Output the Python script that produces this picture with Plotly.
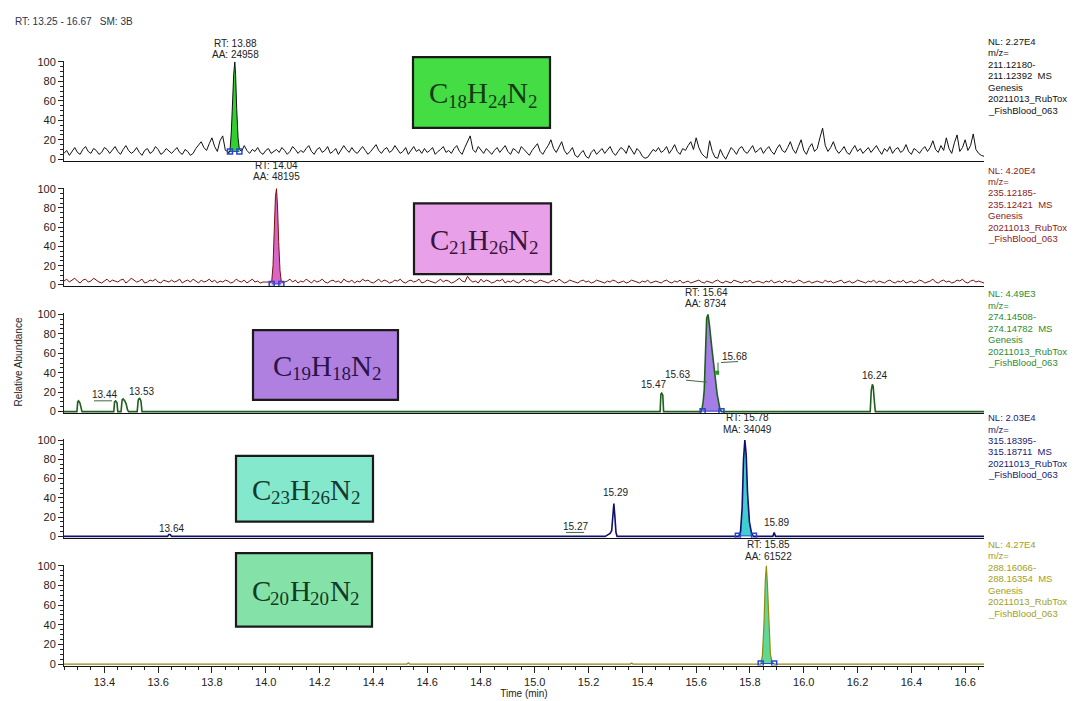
import re
import numpy as np
import plotly.graph_objects as go

# ---------------- data ----------------
X_MIN, X_MAX = 13.25, 16.67
GRID_START, GRID_STEP = 13.25, 0.01

# Panel 1: C18H24N2 (m/z 211.12180-211.12392), noisy baseline, 0.01 min scans
noise1 = [6,9,4,8,12,7,5,10,13,8,6,11,9,5,7,12,10,6,9,13,
          8,5,10,14,9,6,8,12,7,4,9,11,6,8,13,10,5,7,11,8,
          6,9,12,7,5,10,8,4,6,11,14,18,12,9,16,22,13,8,19,24,
          9,8,8,8,8,8,8,14,9,6,10,8,12,7,5,9,11,6,8,10,
          7,12,9,5,8,13,10,6,9,7,11,14,8,5,10,12,7,9,13,6,
          8,11,5,9,14,10,7,12,8,6,10,13,9,5,8,11,15,9,6,10,
          12,7,9,14,10,6,8,12,5,9,13,8,10,6,11,7,9,12,5,8,
          10,13,7,9,6,11,14,8,5,12,18,24,10,7,13,9,6,11,8,5,
          9,12,7,10,14,8,5,11,9,6,13,10,7,4,9,12,16,8,5,10,
          14,20,11,7,13,18,9,5,8,12,4,2,6,9,3,1,7,10,5,8,
          11,6,9,13,7,4,8,12,10,6,14,9,5,11,8,3,1,2,6,10,
          8,12,7,9,13,6,10,15,8,5,11,9,14,18,10,22,12,6,3,1,
          19,8,2,1,10,4,0,7,12,9,5,11,13,8,6,10,14,7,9,12,
          6,10,13,8,5,11,15,9,7,12,18,10,6,13,20,9,5,12,16,8,
          11,22,32,14,8,12,18,10,6,9,13,7,5,10,14,8,11,6,9,12,
          7,10,14,9,5,11,8,13,6,10,12,7,9,15,8,5,11,9,6,10,
          13,8,12,19,10,7,14,9,22,11,6,17,25,8,12,20,9,14,26,10,
          6,4,3]
pk1_t = [13.862, 13.867, 13.872, 13.877, 13.881, 13.885, 13.888, 13.892, 13.897, 13.902, 13.907]
pk1_i = [6, 9, 28, 66, 88, 100, 86, 52, 22, 10, 8]
int1_t = [13.867, 13.902]
int1_i = [8, 8]

# Panel 2: C21H26N2 (m/z 235.12185-235.12421)
noise2 = [4,6,3,5,7,4,2,5,6,3,4,7,5,3,2,4,6,3,5,4,
          3,5,6,2,4,7,5,3,4,6,2,3,5,4,6,3,2,5,4,3,
          5,3,4,6,2,4,5,3,6,4,2,5,3,4,6,3,5,2,4,3,
          5,4,2,3,6,4,3,5,2,4,6,3,4,2,3,3,3,3,3,3,
          3,3,3,4,6,3,5,2,4,3,6,4,2,5,3,4,6,3,2,4,
          5,3,4,2,6,4,3,5,2,4,3,6,4,5,3,2,4,6,3,5,
          4,2,3,5,4,6,3,2,4,5,3,4,6,2,3,5,4,3,2,4,
          6,3,5,4,2,3,5,7,4,3,9,5,3,4,2,6,3,5,4,2,
          3,5,4,6,2,4,3,5,3,2,4,6,3,5,4,2,3,5,4,3,
          2,4,5,3,6,4,2,3,5,4,3,2,4,5,3,4,2,3,5,4,
          3,2,4,3,5,4,2,3,4,2,3,5,4,3,2,4,3,5,2,3,
          4,3,2,4,5,3,2,4,3,5,2,3,4,2,3,4,5,3,2,4,
          3,2,4,5,3,2,4,3,2,5,4,3,2,4,3,5,2,3,4,3,
          2,4,3,5,2,3,4,2,5,3,4,2,3,5,4,2,3,4,2,3,
          4,3,2,5,3,4,2,3,4,5,2,3,4,2,3,5,4,3,2,4,
          3,5,2,4,3,2,4,5,3,2,4,3,5,2,3,4,2,3,5,4,
          2,3,4,6,3,2,4,5,3,4,2,3,5,4,6,3,2,4,5,3,
          4,3,2]
pk2_t = [14.016, 14.022, 14.027, 14.032, 14.036, 14.040, 14.044, 14.048, 14.053, 14.058, 14.064]
pk2_i = [2, 3, 20, 62, 92, 100, 80, 45, 15, 3, 2]
int2_t = [14.022, 14.058]
int2_i = [1, 1]

# Panel 3: C19H18N2 (m/z 274.14508-274.14782)
t3 = [13.25, 13.298, 13.301, 13.304, 13.309, 13.314, 13.317,
      13.435, 13.438, 13.442, 13.447, 13.450,
      13.462, 13.466, 13.470, 13.476, 13.481, 13.486, 13.490,
      13.522, 13.526, 13.531, 13.536, 13.540,
      15.466, 15.469, 15.472, 15.476, 15.479,
      15.620, 15.626, 15.630, 15.634, 15.639, 15.644, 15.649, 15.658, 15.668, 15.678, 15.688, 15.695,
      16.247, 16.251, 16.255, 16.258, 16.262, 16.266,
      16.67]
i3 = [0, 0, 10, 11, 9, 1, 0,
      0, 10, 11, 9, 0,
      0, 12, 13, 11, 8, 2, 0,
      0, 12, 14, 11, 0,
      0, 18, 19, 17, 0,
      0, 10, 22, 62, 96, 100, 90, 66, 42, 18, 3, 0,
      0, 22, 28, 26, 12, 0,
      0]
int3_t = [15.624, 15.694]
int3_i = [0.5, 0.5]

# Panel 4: C23H26N2 (m/z 315.18395-315.18711)
t4 = [13.25, 13.635, 13.640, 13.645, 13.650,
      15.262, 15.268, 15.274, 15.280, 15.286, 15.290, 15.294, 15.298, 15.302, 15.306,
      15.758, 15.765, 15.771, 15.776, 15.781, 15.786, 15.791, 15.798, 15.806, 15.813,
      15.885, 15.890, 15.895, 16.67]
i4 = [0, 0, 2, 2, 0,
      0, 1, 2, 3, 6, 20, 34, 20, 4, 0,
      0, 5, 30, 80, 100, 85, 45, 15, 3, 0,
      0, 4, 0, 0]
int4_t = [15.755, 15.815]
int4_i = [0.5, 0.5]

# Panel 5: C20H20N2 (m/z 288.16066-288.16354)
t5 = [13.25, 14.525, 14.530, 14.535, 15.355, 15.360, 15.365,
      15.840, 15.846, 15.852, 15.857, 15.861, 15.865, 15.870, 15.876, 15.882, 15.890, 16.67]
i5 = [0, 0, 1.2, 0, 0, 1, 0,
      0, 8, 40, 85, 100, 80, 40, 10, 2, 0, 0]
int5_t = [15.840, 15.890]
int5_i = [0.5, 0.5]

formulas = ["C18H24N2", "C21H26N2", "C19H18N2", "C23H26N2", "C20H20N2"]

info_lines = [
    ["NL: 2.27E4", "m/z=", "211.12180-", "211.12392  MS", "Genesis", "20211013_RubTox", "_FishBlood_063"],
    ["NL: 4.20E4", "m/z=", "235.12185-", "235.12421  MS", "Genesis", "20211013_RubTox", "_FishBlood_063"],
    ["NL: 4.49E3", "m/z=", "274.14508-", "274.14782  MS", "Genesis", "20211013_RubTox", "_FishBlood_063"],
    ["NL: 2.03E4", "m/z=", "315.18395-", "315.18711  MS", "20211013_RubTox", "_FishBlood_063"],
    ["NL: 4.27E4", "m/z=", "288.16066-", "288.16354  MS", "Genesis", "20211013_RubTox", "_FishBlood_063"],
]

x_ticks = [13.4, 13.6, 13.8, 14.0, 14.2, 14.4, 14.6, 14.8, 15.0, 15.2, 15.4, 15.6, 15.8, 16.0, 16.2, 16.4, 16.6]
y_ticks = [0, 20, 40, 60, 80, 100]

# ---------------- styling / layout ----------------
W, H = 1076, 701
L, R = 56, 100
T, B = 53, 669
Y_MIN, Y_MAX = -1.5, 101
PANEL_Y0 = [153, 281, 410, 537, 667]
PANEL_Y100 = [54, 183, 311, 439, 567]

line_colors = ["#111111", "#7a1010", "#1f5f1f", "#10106e", "#8c8c10"]
line_widths = [1, 1, 1.6, 1.6, 1.2]
fill_colors = ["#2fd02f", "#d865c8", "#a47ee6", "#3fcfd0", "#5fd896"]
box_colors = ["#44dd44", "#e8a0e8", "#b080e0", "#84e8cc", "#84e2a8"]
text_colors = ["#143a14", "#3a143a", "#2a1448", "#143a30", "#143a24"]
info_colors = ["#111111", "#8b1a1a", "#2e8b2e", "#1a1a70", "#a0a020"]
boxes_px = [(405, 49, 542, 121), (406, 198, 543, 270), (245, 327, 390, 398),
            (228, 455, 365, 522), (228, 554, 364, 629)]
info_top = [33, 164, 290, 416, 545]
INFO_STEP = 11.7
MAIN_SIZE, SUB_SIZE = 29, 19
GLYPH_W = {"C": 0.667, "H": 0.722, "N": 0.722}
DIGIT_W = 0.5


def px_x(x):
    return (x - L) / (W - L - R)


def px_y(y):
    return (B - y) / (B - T)


def splice(noise, pk_t, pk_i):
    gt = np.round(GRID_START + GRID_STEP * np.arange(len(noise)), 3)
    gi = np.array(noise, dtype=float)
    keep = (gt < pk_t[0]) | (gt > pk_t[-1])
    t = np.concatenate([gt[keep], pk_t])
    i = np.concatenate([gi[keep], pk_i])
    order = np.argsort(t)
    return t[order], i[order]


traces_t, traces_i = [], []
a, b = splice(noise1, pk1_t, pk1_i); traces_t.append(a); traces_i.append(b)
a, b = splice(noise2, pk2_t, pk2_i); traces_t.append(a); traces_i.append(b)
traces_t += [np.array(t3), np.array(t4), np.array(t5)]
traces_i += [np.array(i3, float), np.array(i4, float), np.array(i5, float)]
ints = [(int1_t, int1_i), (int2_t, int2_i), (int3_t, int3_i), (int4_t, int4_i), (int5_t, int5_i)]

fig = go.Figure()
layout_axes = {}
for k in range(5):
    n = k + 1
    xa = "x" if n == 1 else f"x{n}"
    ya = "y" if n == 1 else f"y{n}"
    t, inten = traces_t[k], traces_i[k]
    it, ii = ints[k]
    m = (t >= it[0]) & (t <= it[1])
    poly_t = [it[0]] + list(t[m]) + [it[1], it[0]]
    poly_i = [ii[0]] + list(inten[m]) + [ii[1], ii[0]]
    fig.add_trace(go.Scatter(x=poly_t, y=poly_i, xaxis=xa, yaxis=ya, mode="lines",
                             fill="toself", fillcolor=fill_colors[k], line=dict(width=0),
                             hoverinfo="skip"))
    fig.add_trace(go.Scatter(x=t, y=inten, xaxis=xa, yaxis=ya, mode="lines",
                             line=dict(color=line_colors[k], width=line_widths[k]),
                             hoverinfo="skip"))
    fig.add_trace(go.Scatter(x=it, y=ii, xaxis=xa, yaxis=ya, mode="lines+markers",
                             line=dict(color="#2a44cc", width=1),
                             marker=dict(symbol="square-open", size=5, color="#2a44cc",
                                         line=dict(width=1.5, color="#2a44cc")),
                             hoverinfo="skip"))

    ppu = (PANEL_Y0[k] - PANEL_Y100[k]) / 100.0
    top_px = PANEL_Y100[k] - (Y_MAX - 100) * ppu
    bot_px = PANEL_Y0[k] + (0 - Y_MIN) * ppu
    dom = [max(0, px_y(bot_px)), min(1, px_y(top_px))]
    yname = "yaxis" if n == 1 else f"yaxis{n}"
    xname = "xaxis" if n == 1 else f"xaxis{n}"
    layout_axes[yname] = dict(domain=dom, range=[Y_MIN, Y_MAX], anchor=xa,
                              tickvals=y_ticks, ticktext=[str(v) for v in y_ticks],
                              ticks="outside", ticklen=5, tickwidth=1,
                              tickcolor="#222", showline=True, linecolor="#222", linewidth=1,
                              showgrid=False, zeroline=False,
                              tickfont=dict(family="Liberation Sans", size=11, color="#222"),
                              minor=dict(dtick=5, ticks="outside", ticklen=3, tickcolor="#222"))
    xa_cfg = dict(domain=[0, 1], range=[X_MIN, X_MAX], anchor=ya, showline=True,
                  linecolor="#111", linewidth=1, showgrid=False, zeroline=False)
    if n == 5:
        xa_cfg.update(tickvals=x_ticks, ticktext=[f"{v:.1f}" for v in x_ticks],
                      ticks="outside", ticklen=6, tickcolor="#222",
                      tickfont=dict(family="Liberation Sans", size=11, color="#222"),
                      minor=dict(tick0=13.4, dtick=0.05, ticks="outside", ticklen=3, tickcolor="#222"),
                      title=dict(text="Time (min)", standoff=2,
                                 font=dict(family="Liberation Sans", size=10, color="#222")))
    else:
        xa_cfg.update(showticklabels=False, ticks="", tickvals=[])
    layout_axes[xname] = xa_cfg

fig.update_layout(**layout_axes)

# green shoulder marker in panel 3
fig.add_trace(go.Scatter(x=[15.678], y=[40], xaxis="x3", yaxis="y3", mode="markers",
                         marker=dict(symbol="square", size=4, color="#1f9f1f"), hoverinfo="skip"))

shapes = []
annots = []
for k in range(5):
    x0, y0, x1, y1 = boxes_px[k]
    shapes.append(dict(type="rect", xref="paper", yref="paper",
                       x0=px_x(x0), x1=px_x(x1), y0=px_y(y1), y1=px_y(y0),
                       fillcolor=box_colors[k], line=dict(color="#1a1a1a", width=2.2), layer="above"))
    # formula drawn as separate pieces: element letters + lowered smaller digits
    pieces = re.findall(r"([A-Z][a-z]?)(\d*)", formulas[k])
    total = sum(GLYPH_W.get(el, 0.7) * MAIN_SIZE + len(num) * DIGIT_W * SUB_SIZE for el, num in pieces)
    cx = (x0 + x1) / 2 - total / 2
    cy = (y0 + y1) / 2 + 1
    for el, num in pieces:
        annots.append(dict(xref="paper", yref="paper", x=px_x(cx), y=px_y(cy), text=el,
                           showarrow=False, xanchor="left", yanchor="middle",
                           font=dict(family="Liberation Serif", size=MAIN_SIZE, color=text_colors[k])))
        cx += GLYPH_W.get(el, 0.7) * MAIN_SIZE
        if num:
            annots.append(dict(xref="paper", yref="paper", x=px_x(cx - 0.5), y=px_y(cy + 8), text=num,
                               showarrow=False, xanchor="left", yanchor="middle",
                               font=dict(family="Liberation Serif", size=SUB_SIZE, color=text_colors[k])))
            cx += len(num) * DIGIT_W * SUB_SIZE
    for j, line in enumerate(info_lines[k]):
        annots.append(dict(xref="paper", yref="paper", x=px_x(978), y=px_y(info_top[k] + j * INFO_STEP),
                           text=line, showarrow=False, xanchor="left", yanchor="middle",
                           font=dict(family="Liberation Sans", size=9.5, color=info_colors[k])))

small_labels = [
    (227, 35, "RT: 13.88"), (227, 46, "AA: 24958"),
    (268, 159, "RT: 14.04"), (268, 171, "AA: 48195"),
    (698, 289, "RT: 15.64"), (698, 300, "AA: 8734"),
    (96, 393, "13.44"), (133, 389, "13.53"), (645, 382, "15.47"),
    (669, 372, "15.63"), (726, 354, "15.68"), (866, 373, "16.24"),
    (739, 416, "RT: 15.78"), (739, 428, "MA: 34049"),
    (163, 529, "13.64"), (567, 527, "15.27"), (607, 492, "15.29"), (768, 523, "15.89"),
    (760, 545, "RT: 15.85"), (760, 557, "AA: 61522"),
]
for x, y, s in small_labels:
    annots.append(dict(xref="paper", yref="paper", x=px_x(x), y=px_y(y), text=s, showarrow=False,
                       xanchor="center", yanchor="middle",
                       font=dict(family="Liberation Sans", size=10, color="#222")))

# leader lines for shoulder labels
leaders = [(86, 399, 104, 399), (678, 378, 699, 380), (713, 360, 730, 359), (710, 360, 710, 370),
           (558, 533, 576, 533)]
for x0, y0, x1, y1 in leaders:
    shapes.append(dict(type="line", xref="paper", yref="paper", x0=px_x(x0), y0=px_y(y0),
                       x1=px_x(x1), y1=px_y(y1), line=dict(color="#446644", width=1)))

annots.append(dict(xref="paper", yref="paper", x=px_x(5), y=px_y(13), text="RT: 13.25 - 16.67   SM: 3B",
                   showarrow=False, xanchor="left", yanchor="middle",
                   font=dict(family="Liberation Sans", size=10, color="#2a3350")))
annots.append(dict(xref="paper", yref="paper", x=px_x(11), y=px_y(360), text="Relative Abundance",
                   showarrow=False, textangle=-90, xanchor="center", yanchor="middle",
                   font=dict(family="Liberation Sans", size=10, color="#222")))

fig.update_layout(width=W, height=H, margin=dict(l=L, r=R, t=T, b=H - B),
                  paper_bgcolor="white", plot_bgcolor="white", showlegend=False,
                  shapes=shapes, annotations=annots)

fig.write_html("out.html")
